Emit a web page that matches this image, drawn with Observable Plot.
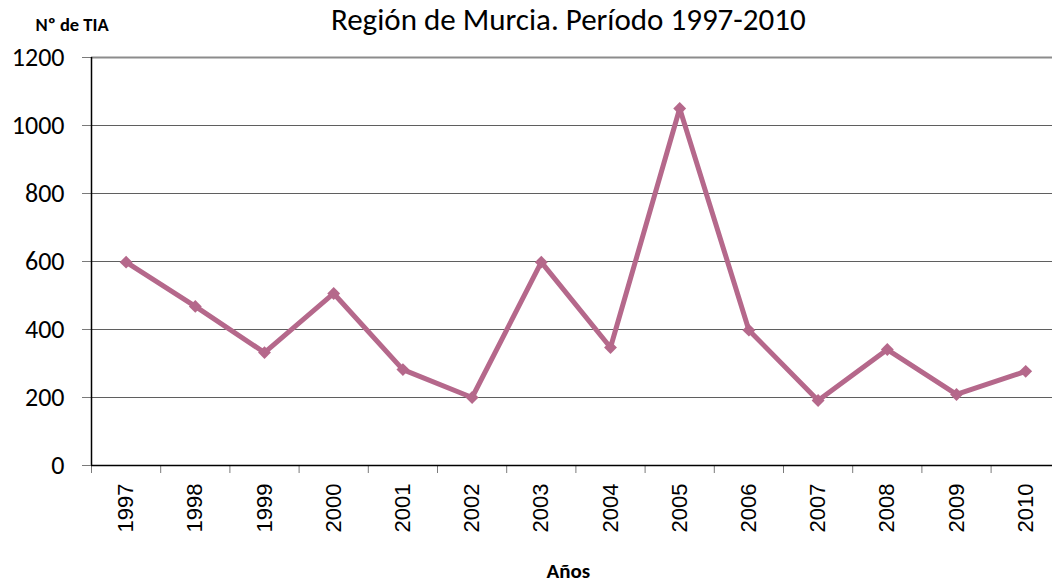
<!DOCTYPE html>
<html>
<head>
<meta charset="utf-8">
<script src="https://cdn.jsdelivr.net/npm/d3@7"></script>
<script src="https://cdn.jsdelivr.net/npm/@observablehq/plot@0.6"></script>
<style>
  html, body { margin: 0; padding: 0; background: #fff; overflow: hidden; }
  #chart svg { display: block; overflow: hidden; }
</style>
</head>
<body>
<div id="chart"></div>
<script>
const years = [1997, 1998, 1999, 2000, 2001, 2002, 2003, 2004, 2005, 2006, 2007, 2008, 2009, 2010];
const tia = [598, 468, 332, 506, 282, 200, 598, 347, 1050, 398, 191, 341, 209, 277];
const yTicks = [0, 200, 400, 600, 800, 1000, 1200];
const yearLabels = years.map(String);
const title = "Región de Murcia. Período 1997-2010";
const yLabel = "Nº de TIA";
const xLabel = "Años";

const data = years.map((y, i) => ({year: y, value: tia[i]}));
const boundaries = years.map(y => y - 0.5);
const lineColor = "#b5688b";
const calibri = "Carlito, Lato, sans-serif";

const plot = Plot.plot({
  width: 1052,
  height: 586,
  marginTop: 57,
  marginBottom: 121,
  marginLeft: 91,
  marginRight: 0,
  style: {background: "#fff", overflow: "hidden"},
  x: {type: "linear", domain: [1996.5, 2010.5], range: [91, 1059.8]},
  y: {domain: [0, 1200], range: [465, 57]},
  marks: [
    Plot.ruleY(yTicks.filter(d => d > 0 && d < 1200), {stroke: "#5f5f5f", strokeWidth: 1}),
    Plot.ruleY([1200], {stroke: "#8c8c8c", strokeWidth: 2.2}),
    Plot.axisY({
      ticks: yTicks,
      tickFormat: d => String(d),
      tickSize: 9,
      tickPadding: 18,
      fontSize: 26,
      fontFamily: calibri,
      fill: "#000",
      stroke: "#7a7a7a",
      label: null
    }),
    Plot.axisX({
      ticks: boundaries,
      tickFormat: () => "",
      tickSize: 8,
      stroke: "#7a7a7a",
      label: null
    }),
    Plot.axisX({
      ticks: years,
      tickFormat: d => yearLabels[years.indexOf(d)],
      tickSize: 0,
      tickPadding: 18,
      tickRotate: -90,
      fontSize: 22,
      fontFamily: "Liberation Sans, Arial, sans-serif",
      fill: "#000",
      label: null
    }),
    Plot.ruleX([1996.5], {stroke: "#000", strokeWidth: 1.5}),
    Plot.ruleY([0], {stroke: "#000", strokeWidth: 1.5}),
    Plot.line(data, {x: "year", y: "value", stroke: lineColor, strokeWidth: 5, strokeLinejoin: "miter"}),
    Plot.dot(data, {x: "year", y: "value", symbol: "diamond2", r: 5.8, fill: lineColor, stroke: "none"}),
    Plot.text([title], {frameAnchor: "top", x: () => 2003.39, dy: -28, text: d => d, fontSize: 31, fontFamily: calibri, fill: "#000", textAnchor: "middle", lineAnchor: "bottom"}),
    Plot.text([yLabel], {frameAnchor: "top-left", dx: -56, dy: -32, text: d => d, fontSize: 18.5, fontWeight: "bold", fontFamily: calibri, fill: "#000", textAnchor: "start", lineAnchor: "middle"}),
    Plot.text([xLabel], {frameAnchor: "bottom", x: () => 2003.39, dy: 106, text: d => d, fontSize: 21, fontWeight: "bold", fontFamily: calibri, fill: "#000", textAnchor: "middle", lineAnchor: "middle"})
  ]
});
document.getElementById("chart").appendChild(plot);
</script>
</body>
</html>
